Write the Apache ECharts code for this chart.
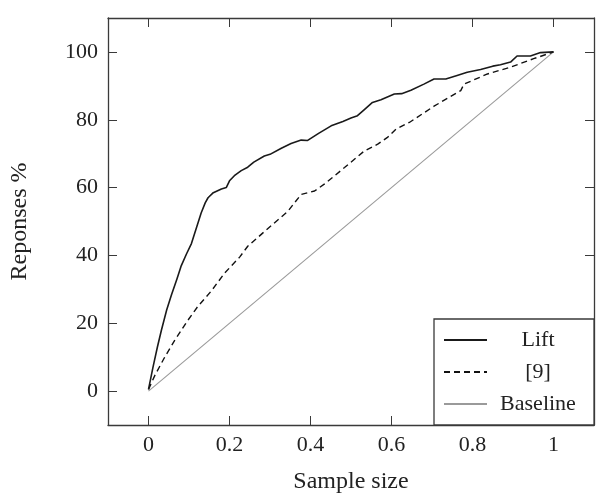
<!DOCTYPE html>
<html>
<head>
<meta charset="utf-8">
<script src="https://cdn.jsdelivr.net/npm/echarts@6/dist/echarts.min.js"></script>
<style>
html,body{margin:0;padding:0;background:#fff;}
#chart{width:597px;height:499px;}
</style>
</head>
<body>
<div id="chart"></div>
<script>
const xTicks = [0, 0.2, 0.4, 0.6, 0.8, 1];
const yTicks = [0, 20, 40, 60, 80, 100];
const seriesNames = ['Lift', '[9]', 'Baseline'];
const liftPoints = [
  [0,0.5],[0.011,7],[0.022,13],[0.032,18],[0.045,24],[0.057,28.5],[0.07,33],[0.081,37],
  [0.094,40.5],[0.106,43.5],[0.118,48],[0.13,52.5],[0.14,55.5],[0.147,57],[0.16,58.5],
  [0.18,59.6],[0.192,60],[0.2,62],[0.212,63.5],[0.229,65],[0.245,66],[0.26,67.5],
  [0.286,69.3],[0.3,69.8],[0.328,71.6],[0.352,73],[0.377,74],[0.393,73.9],[0.42,76],
  [0.451,78.2],[0.48,79.5],[0.5,80.5],[0.516,81.2],[0.533,83],[0.553,85.1],[0.574,85.9],
  [0.607,87.6],[0.625,87.7],[0.648,88.7],[0.68,90.5],[0.705,92],[0.734,92],[0.76,93],
  [0.787,94],[0.82,94.8],[0.85,95.8],[0.869,96.2],[0.894,97],[0.91,98.8],[0.943,98.8],
  [0.968,99.8],[1,100]
];
const refPoints = [
  [0,0.5],[0.016,4.7],[0.04,10],[0.065,15],[0.095,20.5],[0.122,25],[0.155,29.5],
  [0.188,34.8],[0.225,39.5],[0.245,42.7],[0.287,47.1],[0.344,53],[0.377,58],[0.41,59],
  [0.434,61],[0.484,65.9],[0.533,70.8],[0.566,72.8],[0.59,74.8],[0.611,77.2],[0.635,78.7],
  [0.644,79.2],[0.705,84],[0.771,88.6],[0.779,90.5],[0.837,93.5],[0.894,95.5],[0.951,98],
  [1,100]
];
const baselinePoints = [[0,0],[1,100]];

const FONT = '"Liberation Serif", "Times New Roman", serif';
const FRAME = '#3a3a3a';

function xAxisDef(pos, showLabel) {
  return {
    type: 'value', position: pos, min: -0.1, max: 1.1,
    axisLine: {show: true, onZero: false, lineStyle: {color: FRAME, width: 1.3}},
    axisTick: {show: true, inside: true, length: 9, customValues: xTicks, lineStyle: {color: FRAME, width: 1}},
    axisLabel: {show: showLabel, customValues: xTicks, margin: 9, color: '#222', fontFamily: FONT, fontSize: 22},
    splitLine: {show: false},
    name: showLabel ? 'Sample size' : '',
    nameLocation: 'middle', nameGap: 45,
    nameTextStyle: {color: '#222', fontFamily: FONT, fontSize: 24}
  };
}
function yAxisDef(pos, showLabel) {
  return {
    type: 'value', position: pos, min: -10, max: 110,
    axisLine: {show: true, onZero: false, lineStyle: {color: FRAME, width: 1.3}},
    axisTick: {show: true, inside: true, length: 9, customValues: yTicks, lineStyle: {color: FRAME, width: 1}},
    axisLabel: {show: showLabel, customValues: yTicks, margin: 10, color: '#222', fontFamily: FONT, fontSize: 22},
    splitLine: {show: false},
    name: showLabel ? 'Reponses %' : '',
    nameLocation: 'middle', nameGap: 76, nameRotate: 90,
    nameTextStyle: {color: '#222', fontFamily: FONT, fontSize: 24}
  };
}

const chart = echarts.init(document.getElementById('chart'), null, {renderer: 'canvas'});
chart.setOption({
  animation: false,
  backgroundColor: '#fff',
  grid: {left: 106, right: 3, top: 18, bottom: 74},
  xAxis: [xAxisDef('bottom', true), xAxisDef('top', false)],
  yAxis: [yAxisDef('left', true), yAxisDef('right', false)],
  legend: {
    orient: 'vertical', right: 3, bottom: 74,
    data: seriesNames,
    backgroundColor: '#fff', borderColor: FRAME, borderWidth: 1.3, borderRadius: 0,
    padding: [10, 10, 10, 9], itemGap: 10, itemWidth: 43, itemHeight: 14,
    itemStyle: {opacity: 0},
    formatter: function (n) { return '{t|' + n + '}'; },
    textStyle: {
      color: '#222', fontFamily: FONT, fontSize: 22,
      rich: {t: {width: 92, align: 'center', lineHeight: 22, fontFamily: FONT, fontSize: 22, color: '#222'}}
    }
  },
  series: [
    {name: seriesNames[0], type: 'line', data: liftPoints, symbol: 'none', xAxisIndex: 0, yAxisIndex: 0,
     lineStyle: {color: '#1a1a1a', width: 1.6}, itemStyle: {color: '#1a1a1a'}, z: 3},
    {name: seriesNames[1], type: 'line', data: refPoints, symbol: 'none', xAxisIndex: 0, yAxisIndex: 0,
     lineStyle: {color: '#111', width: 1.4, type: [6, 4]}, itemStyle: {color: '#111'}, z: 2},
    {name: seriesNames[2], type: 'line', data: baselinePoints, symbol: 'none', xAxisIndex: 0, yAxisIndex: 0,
     lineStyle: {color: '#9a9a9a', width: 1.1}, itemStyle: {color: '#9a9a9a'}, z: 1}
  ]
});
</script>
</body>
</html>
